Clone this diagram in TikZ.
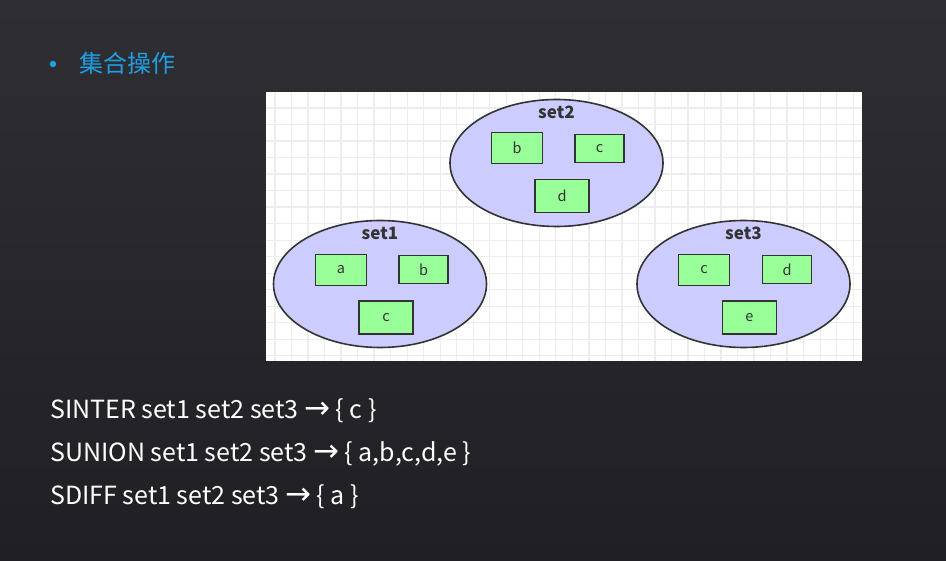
\documentclass[tikz,border=0pt]{standalone}
\usepackage{fontspec}
\setmainfont{Noto Sans CJK SC}
\newfontfamily\arrowfont{DejaVu Sans}
\usetikzlibrary{shapes.geometric}
\definecolor{bgtop}{HTML}{2E2E33}
\definecolor{bgbot}{HTML}{202024}
\definecolor{gridc}{HTML}{EDEDED}
\definecolor{edge}{HTML}{333333}
\definecolor{setfill}{HTML}{CCCCFF}
\definecolor{elemfill}{HTML}{99FF99}
\definecolor{txt}{HTML}{333333}
\definecolor{titlec}{HTML}{1E9FE3}
\newcommand{\myarrow}{{\arrowfont\fontsize{31}{31}\selectfont →}}
\begin{document}
\begin{tikzpicture}[x=1pt,y=-1pt,
  setell/.style={ellipse, draw=edge, fill=setfill, line width=1.6pt, minimum width=213pt, minimum height=127pt, inner sep=0pt},
  setlbl/.style={font=\fontsize{17}{17}\selectfont\bfseries, text=txt, inner sep=0pt},
  elem/.style={rectangle, draw=edge, fill=elemfill, line width=1.6pt, inner sep=0pt, text=txt, font=\fontsize{14.5}{14.5}\selectfont},
  boxL/.style={elem, minimum width=51pt, minimum height=31pt},
  boxR/.style={elem, minimum width=49pt, minimum height=28pt},
  boxB/.style={elem, minimum width=54pt, minimum height=33pt},
  cmd/.style={anchor=base west, inner sep=0pt, text=white, font=\fontsize{25}{25}\selectfont}]
\useasboundingbox (0,0) rectangle (946,561);
\shade[top color=bgtop, bottom color=bgbot] (0,0) rectangle (946,561);
% title
\node[circle, fill=titlec, inner sep=0pt, minimum size=6.5pt] (bul) at (53,64) {};
\node[anchor=west, inner sep=0pt, text=titlec, font=\fontsize{24}{24}\selectfont] (title) at (79,63) {集合操作};
% panel
\fill[white] (266,92) rectangle (862,361);
\foreach \i in {0,...,35} {\draw[gridc, line width=1.3pt] ({275+16.52*\i},92) -- ({275+16.52*\i},361);}
\foreach \i in {0,...,15} {\draw[gridc, line width=1.3pt] (266,{108+16.52*\i}) -- (862,{108+16.52*\i});}
% sets
\node[setell] (s2) at (556.5,163) {};
\node[setlbl] (l2) at (556.5,112) {set2};
\node[boxL] (s2b) at (517,148) {b};
\node[boxR] (s2c) at (599.5,148.5) {c};
\node[boxB] (s2d) at (562,196) {d};
\node[setell] (s1) at (380,284) {};
\node[setlbl] (l1) at (380,233) {set1};
\node[boxL] (s1a) at (341,270) {a};
\node[boxR] (s1b) at (423.5,269.5) {b};
\node[boxB] (s1c) at (386,317.3) {c};
\node[setell] (s3) at (743.5,284) {};
\node[setlbl] (l3) at (743.5,233) {set3};
\node[boxL] (s3c) at (704,270) {c};
\node[boxR] (s3d) at (787,269.5) {d};
\node[boxB] (s3e) at (749.5,317.3) {e};
% commands
\node[cmd] (c1) at (50,418.3) {SINTER set1 set2 set3 \myarrow{} \{ c \}};
\node[cmd] (c2) at (50,461.3) {SUNION set1 set2 set3 \myarrow{} \{ a,b,c,d,e \}};
\node[cmd] (c3) at (50,504.3) {SDIFF set1 set2 set3 \myarrow{} \{ a \}};
\end{tikzpicture}
\end{document}
